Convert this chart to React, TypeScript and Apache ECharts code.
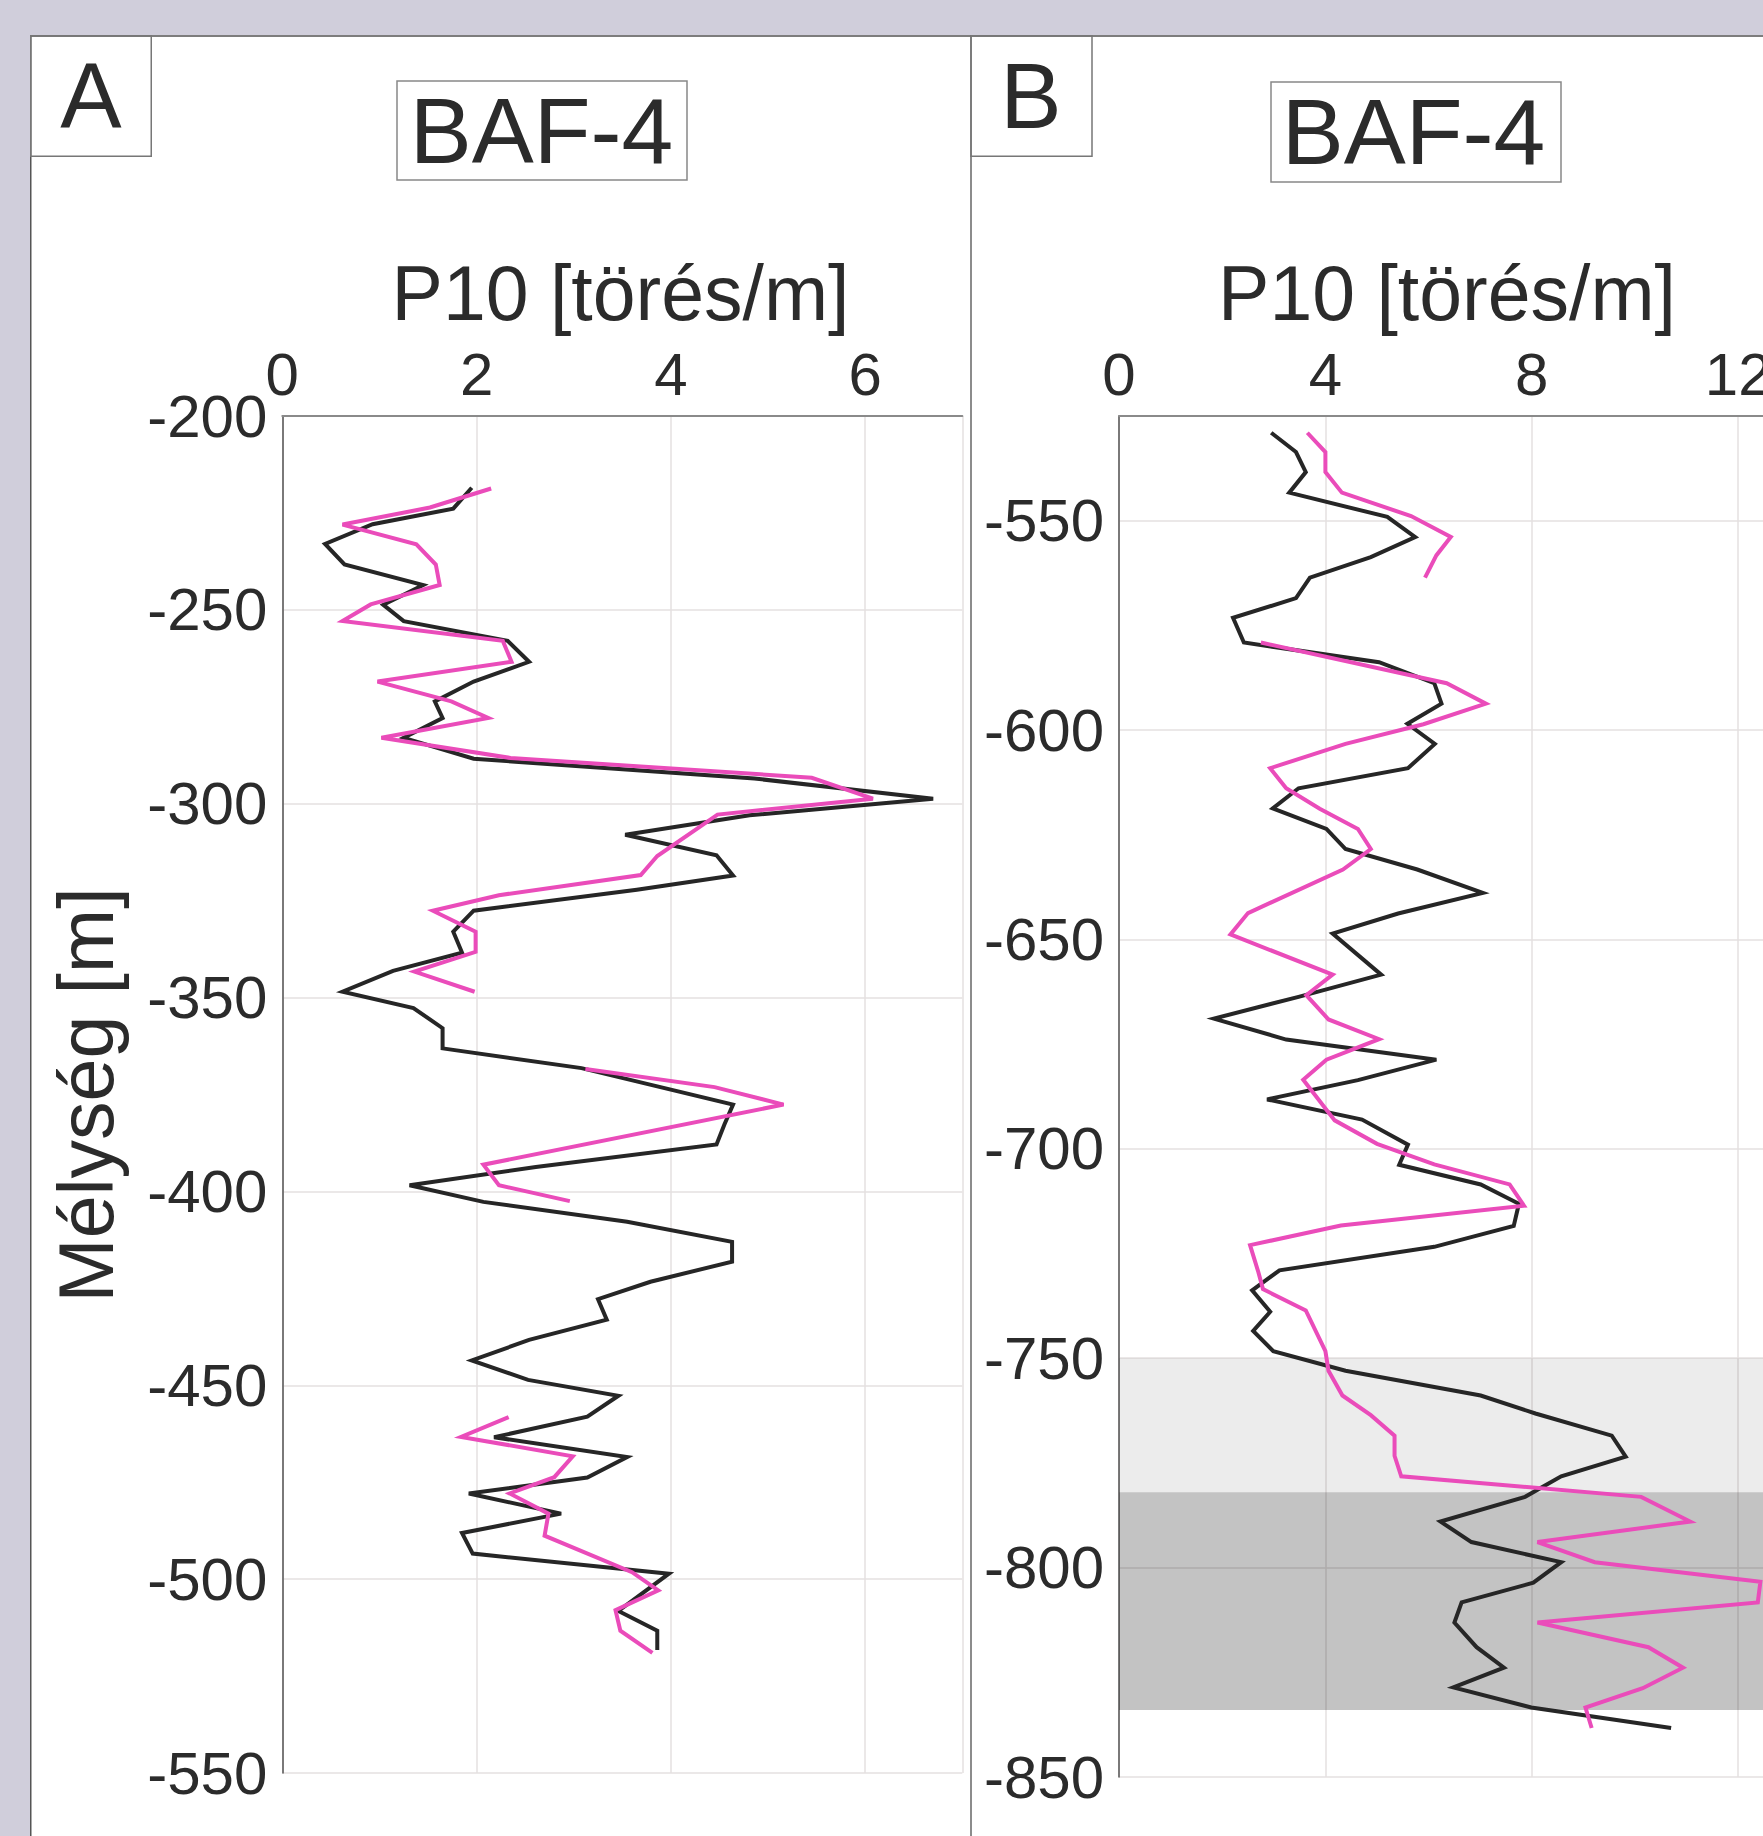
import React, { useEffect, useRef } from "react";
import * as echarts from "echarts";

// ---------- data (x = P10 [törés/m], y = depth [m]) ----------
const panelLabels = ["A", "B"];
const wellName = "BAF-4";
const xAxisTitle = "P10 [törés/m]";
const yAxisTitle = "Mélység [m]";

// Panel A
const blackA: number[][] = [
  [1.95, -218.5], [1.76, -223.9], [0.93, -227.9], [0.44, -233], [0.64, -238.3], [1.45, -243.6],
  [1.04, -248.7], [1.25, -252.9], [2.32, -258], [2.54, -263.4], [1.97, -268.5], [1.57, -273.6],
  [1.65, -277.9], [1.25, -283], [1.97, -288.4], [4.86, -293.5], [6.7, -298.7], [4.81, -303],
  [3.53, -308], [4.47, -313.3], [4.64, -318.5], [3.65, -322.2], [1.97, -327.6], [1.76, -333],
  [1.85, -338.4], [1.14, -343.1], [0.62, -348.5], [1.35, -352.7], [1.65, -357.9], [1.65, -363.1],
  [3.08, -368.2], [4.64, -377.6], [4.55, -382.8], [4.47, -387.9], [2.61, -393.7], [1.31, -398.4],
  [2.07, -402.7], [3.55, -407.8], [4.63, -413], [4.63, -418.1], [3.79, -423.3], [3.25, -427.8],
  [3.34, -433.1], [2.54, -438.3], [1.95, -443.6], [2.53, -448.6], [3.46, -452.7], [3.14, -458.1],
  [2.18, -463.4], [3.55, -468.5], [3.14, -473.8], [1.92, -477.9], [2.87, -483.1], [1.85, -488.1],
  [1.96, -493.4], [3.98, -498.6], [3.46, -508.2], [3.86, -513.3], [3.86, -518.3],
];
const pinkA1: number[][] = [
  [2.15, -218.7], [1.52, -223.6], [0.62, -228], [1.38, -233.1], [1.58, -238.3], [1.62, -243.6],
  [0.91, -248.6], [0.62, -252.9], [2.27, -258], [2.36, -263.4], [0.98, -268.5], [1.74, -273.6],
  [2.12, -277.9], [1.02, -283], [2.35, -288.2], [5.45, -293.3], [6.08, -298.7], [4.48, -302.8],
  [3.86, -313.5], [3.69, -318.4], [2.23, -323.6], [1.55, -327.6], [1.99, -333], [1.99, -338.2],
  [1.36, -343.3], [1.98, -348.5],
];
const pinkA2: number[][] = [
  [3.12, -368.4], [4.45, -373.1], [5.16, -377.6], [2.07, -393.1], [2.23, -398.4], [2.96, -402.5],
];
const pinkA3: number[][] = [
  [2.33, -458.2], [1.84, -463.3], [2.99, -468.3], [2.8, -473.7], [2.34, -477.9], [2.74, -483.1],
  [2.7, -488.8], [3.6, -498.2], [3.87, -502.9], [3.43, -508], [3.48, -513.3], [3.81, -519],
];

// Panel B
const blackB: number[][] = [
  [2.95, -529], [3.43, -533.6], [3.62, -538.4], [3.3, -543.3], [5.2, -549.1], [5.74, -553.9],
  [4.88, -558.7], [3.7, -563.6], [3.43, -568.5], [2.21, -573.2], [2.42, -579.1], [5.04, -583.8],
  [6.11, -588.8], [6.25, -593.7], [5.59, -598.5], [6.12, -603.3], [5.6, -609.1], [3.48, -613.9],
  [2.98, -618.7], [4.02, -623.6], [4.39, -628.4], [5.78, -633.3], [7.05, -638.9], [5.41, -643.8],
  [4.14, -648.6], [5.08, -658.4], [3.48, -663.7], [1.84, -668.9], [3.24, -673.9], [6.15, -678.7],
  [4.63, -683.6], [2.87, -688.2], [4.71, -693], [5.6, -699], [5.43, -703.8], [7.01, -708.5],
  [7.75, -713.1], [7.65, -718.4], [6.11, -723.4], [3.11, -729], [2.58, -733.8], [2.93, -738.9],
  [2.6, -743.5], [2.99, -748.3], [4.39, -753], [7.01, -758.9], [8.07, -763.2], [9.55, -768.5],
  [9.82, -773.5], [8.57, -778.2], [7.87, -783.1], [6.23, -789], [6.83, -793.9], [8.57, -798.7],
  [8.03, -803.6], [6.64, -808.3], [6.5, -813.1], [6.93, -819], [7.46, -823.9], [6.48, -828.6],
  [7.99, -833.4], [10.7, -838.3],
];
const pinkB1: number[][] = [
  [3.65, -529], [4.0, -533.6], [4.0, -538.4], [4.32, -543.3], [5.66, -548.9], [6.43, -553.9],
  [6.15, -558.3], [5.93, -563.6],
];
const pinkB2: number[][] = [
  [2.75, -579.1], [6.35, -588.8], [7.11, -593.7], [5.9, -598.6], [4.39, -603.3], [2.93, -609.1],
  [3.24, -613.9], [3.89, -618.8], [4.63, -623.6], [4.88, -628.4], [4.34, -633.3], [2.5, -643.7],
  [2.16, -648.8], [4.14, -658.4], [3.63, -663.3], [4.06, -669.1], [5.04, -673.8], [4.02, -678.7],
  [3.57, -683.5], [4.18, -693.2], [5.0, -698.8], [6.11, -703.7], [7.57, -708.5], [7.85, -713.6],
  [4.3, -718.3], [2.54, -723], [2.7, -729.4], [2.79, -733.5], [3.62, -738.6], [4.0, -748.3],
  [4.06, -753], [4.33, -758.9], [4.88, -763.6], [5.34, -768.5], [5.34, -773.3], [5.47, -778.2],
  [10.12, -783.1], [11.07, -789], [8.11, -793.9], [9.22, -798.7], [12.43, -803.4], [12.38, -808.3],
  [8.11, -813.1], [10.26, -819], [10.93, -823.9], [10.15, -828.8], [9.04, -833.4], [9.16, -838.3],
];

// Shaded depth intervals in panel B
const lightBand = [-750, -782];
const darkBand = [-782, -834];

// Axis extents [min, max, interval]
const xRangeA = [0, 7, 2];
const yRangeA = [-550, -200, 50];
const xRangeB = [0, 16, 4];
const yRangeB = [-850, -525, 50];

const FONT = "'Liberation Sans', Arial, Helvetica, sans-serif";
const TXT = "#2b2b2b";
const BLACK = "#262626";
const PINK = "#ea4cba";
const GRID = "#e4e0e0";

// page offset of the chart canvas (white panel origin)
const OX = 30;
const OY = 35;

function xAxisOpt(gridIndex: number, r: number[]) {
  return {
    gridIndex,
    type: "value",
    position: "top",
    min: r[0],
    max: r[1],
    interval: r[2],
    axisLine: { show: true, onZero: false, lineStyle: { color: "#8a8a8a", width: 2 } },
    axisTick: { show: false },
    axisLabel: { fontSize: 60, color: TXT, fontFamily: FONT, margin: 12, showMaxLabel: gridIndex === 1 },
    splitLine: { show: true, lineStyle: { color: GRID, width: 1.5 } },
  };
}
function yAxisOpt(gridIndex: number, r: number[]) {
  return {
    gridIndex,
    type: "value",
    min: r[0],
    max: r[1],
    interval: r[2],
    axisLine: { show: true, onZero: false, lineStyle: { color: "#555555", width: 1.5 } },
    axisTick: { show: false },
    axisLabel: { fontSize: 60, color: TXT, fontFamily: FONT, margin: 15, showMaxLabel: gridIndex === 0 },
    splitLine: { show: true, lineStyle: { color: GRID, width: 1.5 } },
  };
}
function lineSeries(data: number[][], idx: number, color: string, name: string) {
  return {
    type: "line",
    name,
    xAxisIndex: idx,
    yAxisIndex: idx,
    data,
    showSymbol: false,
    symbol: "none",
    silent: true,
    z: 3,
    lineStyle: { color, width: 4, cap: "butt", join: "miter" },
  };
}

export default function App() {
  const ref = useRef<HTMLDivElement>(null);
  useEffect(() => {
    if (!ref.current) return;
    const chart = echarts.init(ref.current, undefined, { renderer: "svg" });
    const P = (x: number) => x - OX;
    const Q = (y: number) => y - OY;
    chart.setOption({
      animation: false,
      backgroundColor: "#ffffff",
      grid: [
        { left: P(282.3), top: Q(416), width: 680, height: 1357, outerBoundsMode: "none", containLabel: false },
        { left: P(1119), top: Q(416), width: 825.6, height: 1361, outerBoundsMode: "none", containLabel: false },
      ],
      xAxis: [xAxisOpt(0, xRangeA), xAxisOpt(1, xRangeB)],
      yAxis: [yAxisOpt(0, yRangeA), yAxisOpt(1, yRangeB)],
      series: [
        {
          type: "line",
          xAxisIndex: 1,
          yAxisIndex: 1,
          data: [[0, -850]],
          symbol: "none",
          silent: true,
          z: 1,
          lineStyle: { opacity: 0 },
          markArea: {
            silent: true,
            data: [
              [{ yAxis: lightBand[0], itemStyle: { color: "rgba(0,0,0,0.075)" } }, { yAxis: lightBand[1] }],
              [{ yAxis: darkBand[0], itemStyle: { color: "rgba(0,0,0,0.235)" } }, { yAxis: darkBand[1] }],
            ],
          },
        },
        lineSeries(blackA, 0, BLACK, "A fekete"),
        lineSeries(pinkA1, 0, PINK, "A rózsaszín 1"),
        lineSeries(pinkA2, 0, PINK, "A rózsaszín 2"),
        lineSeries(pinkA3, 0, PINK, "A rózsaszín 3"),
        lineSeries(blackB, 1, BLACK, "B fekete"),
        lineSeries(pinkB1, 1, PINK, "B rózsaszín 1"),
        lineSeries(pinkB2, 1, PINK, "B rózsaszín 2"),
      ],
      graphic: [
        { type: "line", shape: { x1: 0, y1: 1, x2: 2200, y2: 1 }, style: { stroke: "#7d7d7d", lineWidth: 2 } },
        { type: "line", shape: { x1: 0.75, y1: 0, x2: 0.75, y2: 1836 }, style: { stroke: "#555555", lineWidth: 1.5 } },
        { type: "line", shape: { x1: P(971), y1: 0, x2: P(971), y2: 1836 }, style: { stroke: "#666666", lineWidth: 1.5 } },
        { type: "rect", shape: { x: 0.75, y: 0.75, width: 120.5, height: 120.5 }, style: { fill: "none", stroke: "#777777", lineWidth: 1.5 } },
        { type: "rect", shape: { x: P(971), y: 0.75, width: 121, height: 120.5 }, style: { fill: "none", stroke: "#777777", lineWidth: 1.5 } },
        { type: "text", x: P(91), y: Q(95.5), style: { text: panelLabels[0], font: `92px ${FONT}`, fill: TXT, align: "center", verticalAlign: "middle" } },
        { type: "text", x: P(1031), y: Q(95.5), style: { text: panelLabels[1], font: `92px ${FONT}`, fill: TXT, align: "center", verticalAlign: "middle" } },
        { type: "rect", shape: { x: P(397), y: Q(81), width: 290, height: 99 }, style: { fill: "none", stroke: "#888888", lineWidth: 1.5 } },
        { type: "rect", shape: { x: P(1271), y: Q(82), width: 290, height: 100 }, style: { fill: "none", stroke: "#888888", lineWidth: 1.5 } },
        { type: "text", x: P(541.5), y: Q(130.5), style: { text: wellName, font: `93px ${FONT}`, fill: TXT, align: "center", verticalAlign: "middle" } },
        { type: "text", x: P(1413.5), y: Q(132), style: { text: wellName, font: `93px ${FONT}`, fill: TXT, align: "center", verticalAlign: "middle" } },
        { type: "text", x: P(620.5), y: Q(292.5), style: { text: xAxisTitle, font: `77px ${FONT}`, fill: TXT, align: "center", verticalAlign: "middle" } },
        { type: "text", x: P(1447), y: Q(292.5), style: { text: xAxisTitle, font: `77px ${FONT}`, fill: TXT, align: "center", verticalAlign: "middle" } },
        { type: "text", x: P(86), y: Q(1095), rotation: Math.PI / 2, style: { text: yAxisTitle, font: `77px ${FONT}`, fill: TXT, align: "center", verticalAlign: "middle" } },
      ],
    });
    return () => chart.dispose();
  }, []);
  return (
    <div style={{ position: "fixed", left: 0, top: 0, width: 1763, height: 1836, overflow: "hidden", background: "#d0cedb" }}>
      <div ref={ref} style={{ position: "absolute", left: OX, top: OY, width: 2100, height: 1836 - OY }} />
    </div>
  );
}
